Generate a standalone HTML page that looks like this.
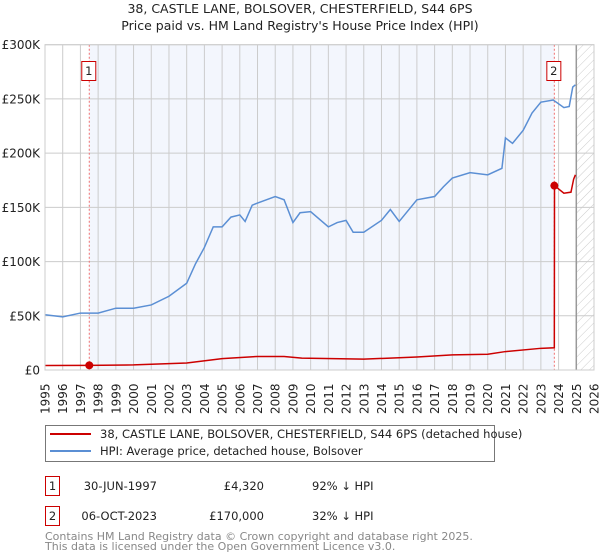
<!DOCTYPE html>
<html><head><meta charset="utf-8"><style>
body{margin:0;background:#fff;width:600px;height:560px;overflow:hidden;font-family:"DejaVu Sans","Liberation Sans",sans-serif}
svg{display:block}
</style></head><body>
<svg id="chart" width="600" height="560" xmlns="http://www.w3.org/2000/svg" font-family="DejaVu Sans, Liberation Sans, sans-serif">
<defs><pattern id="hatch" width="6" height="6" patternUnits="userSpaceOnUse" patternTransform="rotate(45)"><line x1="0" y1="0" x2="0" y2="6" stroke="#ccc" stroke-width="1"/></pattern></defs>
<text x="300" y="13" font-size="12.5" text-anchor="middle" fill="#222">38, CASTLE LANE, BOLSOVER, CHESTERFIELD, S44 6PS</text>
<text x="300" y="30" font-size="12.5" text-anchor="middle" fill="#222">Price paid vs. HM Land Registry's House Price Index (HPI)</text>
<g id="plot"></g>
<g>
<rect x="45.5" y="425.5" width="449" height="36" fill="#fff" stroke="#777"/>
<line x1="50" y1="434" x2="91" y2="434" stroke="#cc0000" stroke-width="2"/>
<text x="100" y="438" font-size="11.5" fill="#222">38, CASTLE LANE, BOLSOVER, CHESTERFIELD, S44 6PS (detached house)</text>
<line x1="50" y1="451" x2="91" y2="451" stroke="#5b8fd4" stroke-width="2"/>
<text x="100" y="455" font-size="11.5" fill="#222">HPI: Average price, detached house, Bolsover</text>
</g>
<g font-size="11.5" fill="#222">
<rect x="45.5" y="476.5" width="14" height="19" fill="none" stroke="#cc0000"/>
<text x="52.5" y="490" text-anchor="middle">1</text>
<text x="157" y="490" text-anchor="end">30-JUN-1997</text>
<text x="264" y="490" text-anchor="end">£4,320</text>
<text x="312" y="490">92% ↓ HPI</text>
</g>
<g font-size="11.5" fill="#222">
<rect x="45.5" y="506.5" width="14" height="19" fill="none" stroke="#cc0000"/>
<text x="52.5" y="520" text-anchor="middle">2</text>
<text x="157" y="520" text-anchor="end">06-OCT-2023</text>
<text x="264" y="520" text-anchor="end">£170,000</text>
<text x="312" y="520">32% ↓ HPI</text>
</g>
<text x="45" y="540" font-size="11" fill="#888">Contains HM Land Registry data © Crown copyright and database right 2025.</text>
<text x="45" y="550" font-size="11" fill="#888">This data is licensed under the Open Government Licence v3.0.</text>
</svg>
<script>
const hpiYears=[1995,1996,1997,1998,1999,2000,2001,2002,2003,2003.5,2004,2004.5,2005,2005.5,2006,2006.3,2006.7,2007,2008,2008.5,2009,2009.4,2010,2011,2011.5,2012,2012.4,2013,2014,2014.5,2015,2016,2017,2017.5,2018,2019,2020,2020.8,2021,2021.4,2022,2022.5,2023,2023.7,2024.3,2024.6,2024.8,2024.95];
const hpiValues=[51,49,52.5,52.5,57,57,60,68,80,98,113,132,132,141,143,137,152,154,160,157,136,145,146,132,136,138,127,127,138,148,137,157,160,169,177,182,180,186,214,209,221,237,247,249,242,243,261,263];
const paidYears=[1995,1997.5,2000,2003,2005,2007,2008.5,2009.5,2013,2016,2018,2020,2021,2023,2023.76,2023.77,2024.3,2024.7,2024.85,2024.95];
const paidValues=[4.2,4.32,4.7,6.5,10.5,12.5,12.5,11,10,12,14,14.5,17,20,20.5,170,163,164,176,180];
const saleYears=[1997.5,2023.76];
const saleValues=[4.32,170];
const saleLabels=["1","2"];
const yTicks=[0,50,100,150,200,250,300];
const yTickLabels=["£0","£50K","£100K","£150K","£200K","£250K","£300K"];
const xTicks=[1995,1996,1997,1998,1999,2000,2001,2002,2003,2004,2005,2006,2007,2008,2009,2010,2011,2012,2013,2014,2015,2016,2017,2018,2019,2020,2021,2022,2023,2024,2025,2026];

const NS="http://www.w3.org/2000/svg";
const L=45,R=594,T=44.7,B=370;
const X=y=>L+(y-1995)/(2026-1995)*(R-L);
const Y=v=>B-v/300*(B-T);
const g=document.getElementById('plot');
function mk(tag,attrs,parent){const e=document.createElementNS(NS,tag);for(const k in attrs)e.setAttribute(k,attrs[k]);(parent||g).appendChild(e);return e;}

const bg=mk('rect',{x:L,y:T,width:R-L,height:B-T,fill:'#fff',stroke:'none'});


const shade=mk('rect',{x:X(saleYears[0]),y:T,width:X(saleYears[1])-X(saleYears[0]),height:B-T,fill:'#f3f6fd'});


const hatch=mk('rect',{x:X(2025),y:T,width:R-X(2025),height:B-T,fill:'url(#hatch)'});



xTicks.forEach(t=>{
  const ln=mk('line',{x1:X(t),x2:X(t),y1:T,y2:B,stroke:'#ccc','stroke-width':1});
  
  
  const tx=mk('text',{x:0,y:0,'font-size':12,fill:'#222',transform:`translate(${X(t)+4.5},414) rotate(-90)`});
  tx.textContent=t;
  
  
});
yTicks.forEach((t,i)=>{
  const ln=mk('line',{x1:L,x2:R,y1:Y(t),y2:Y(t),stroke:'#ccc','stroke-width':1});
  
  
  const tx=mk('text',{x:40,y:Y(t)+4.5,'font-size':12,fill:'#222','text-anchor':'end'});
  tx.textContent=yTickLabels[i];
  
  
});
const nowLine=mk('line',{x1:X(2025),x2:X(2025),y1:T,y2:B,stroke:'#999','stroke-width':1.5});



saleYears.forEach((s,i)=>{
  const vl=mk('line',{x1:X(s),x2:X(s),y1:T,y2:B,stroke:'#f07070','stroke-width':1,'stroke-dasharray':'2,2'});
  
  
});

const hp=mk('polyline',{points:hpiYears.map((y,i)=>X(y)+','+Y(hpiValues[i])).join(' '),fill:'none',stroke:'#5b8fd4','stroke-width':1.5});


const pp=mk('polyline',{points:paidYears.map((y,i)=>X(y)+','+Y(paidValues[i])).join(' '),fill:'none',stroke:'#cc0000','stroke-width':1.5});



saleYears.forEach((s,i)=>{
  const c=mk('circle',{cx:X(s),cy:Y(saleValues[i]),r:4,fill:'#cc0000'});
  
  
  const bx=mk('rect',{x:X(s)-7.5,y:61.5,width:14,height:19,fill:'#fff',stroke:'#cc0000'});
  
  
  const tx=mk('text',{x:X(s)-0.5,y:75,'font-size':11.5,'text-anchor':'middle',fill:'#222'});
  tx.textContent=saleLabels[i];
  
  
});
const frame=mk('rect',{x:L,y:T,width:R-L,height:B-T,fill:'none',stroke:'#ccc'});


</script>
</body></html>
